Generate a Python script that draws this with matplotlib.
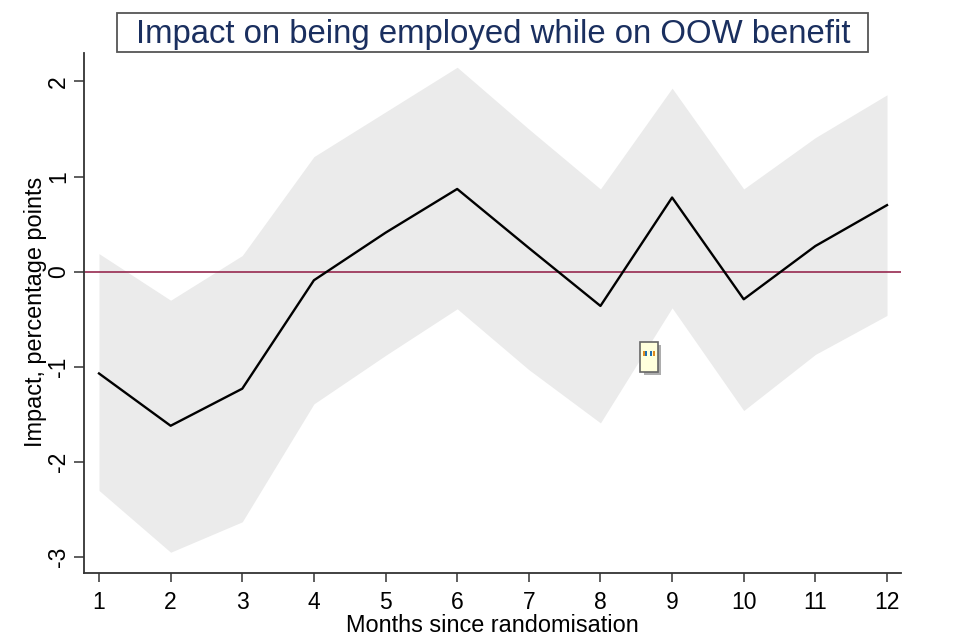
import matplotlib
matplotlib.use("Agg")
import matplotlib.pyplot as plt
from matplotlib.patches import Rectangle

plt.rcParams['font.family'] = ['Liberation Sans', 'DejaVu Sans']

months = [1, 2, 3, 4, 5, 6, 7, 8, 9, 10, 11, 12]
impact = [-1.07, -1.62, -1.23, -0.09, 0.41, 0.87, 0.25, -0.36, 0.78, -0.29, 0.27, 0.70]
upper = [0.19, -0.30, 0.17, 1.21, 1.68, 2.15, 1.50, 0.87, 1.93, 0.87, 1.41, 1.86]
lower = [-2.30, -2.95, -2.63, -1.39, -0.88, -0.39, -1.03, -1.59, -0.38, -1.46, -0.87, -0.46]
y_ticks = [-3, -2, -1, 0, 1, 2]
title = "Impact on being employed while on OOW benefit"
xlabel = "Months since randomisation"
ylabel = "Impact, percentage points"

W, H = 960, 640
fig = plt.figure(figsize=(9.6, 6.4), dpi=100)
L, R, T, B = 84, 901, 53, 573
ax = fig.add_axes([L / W, 1 - B / H, (R - L) / W, (B - T) / H])

ax.fill_between(months, lower, upper, color="#ebebeb", lw=0, zorder=1)
ax.axhline(0, color="#96294f", lw=1.2, zorder=2)
ax.plot(months, impact, color="black", lw=1.7, zorder=3)

ax.set_xlim(1 - 15 / 71.64, 12 + 14 / 71.64)
ax.set_ylim(-3 - 16 / 95.1, 2 + 28.5 / 95.1)
ax.set_xticks(months)
ax.set_yticks(y_ticks)
ax.set_yticklabels([str(v) for v in y_ticks], rotation=90, va="center")
ax.tick_params(axis="x", labelsize=16.5, length=6.5, width=1.1, color="#333333", pad=6.5)
ax.tick_params(axis="y", labelsize=16.5, length=7, width=1.1, color="#333333", pad=3)
for s in ("top", "right"):
    ax.spines[s].set_visible(False)
for s in ("left", "bottom"):
    ax.spines[s].set_linewidth(1.3)
    ax.spines[s].set_color("#333333")

fig.text(492 / W, 1 - 626 / H, xlabel, ha="center", va="center", fontsize=16.9)
fig.text(36 / W, 1 - 312 / H, ylabel, ha="center", va="center", rotation=90, fontsize=16.9)

fig.add_artist(Rectangle((117 / W, 1 - 52 / H), 751 / W, 39 / H, transform=fig.transFigure,
                         fc="white", ec="#555555", lw=1.3))
fig.text(493 / W, 1 - 34.5 / H, title, ha="center", va="center", fontsize=23.7, color="#1a2f5f")

# small note icon present on the original image
fig.add_artist(Rectangle((644 / W, 1 - 375 / H), 17 / W, 30 / H, transform=fig.transFigure,
                         fc="#777777", ec="none", alpha=0.6))
fig.add_artist(Rectangle((639.5 / W, 1 - 372 / H), 18.5 / W, 30.5 / H, transform=fig.transFigure,
                         fc="#ffffdc", ec="#666666", lw=1.2))
for x0, c in zip((643, 645, 649.5, 652.5), ("#e08a1e", "#1f6fb0", "#1f6fb0", "#e08a1e")):
    fig.add_artist(Rectangle((x0 / W, 1 - 355.5 / H), 2 / W, 4.5 / H, transform=fig.transFigure,
                             fc=c, ec="none"))

fig.savefig("out.png", dpi=100)
